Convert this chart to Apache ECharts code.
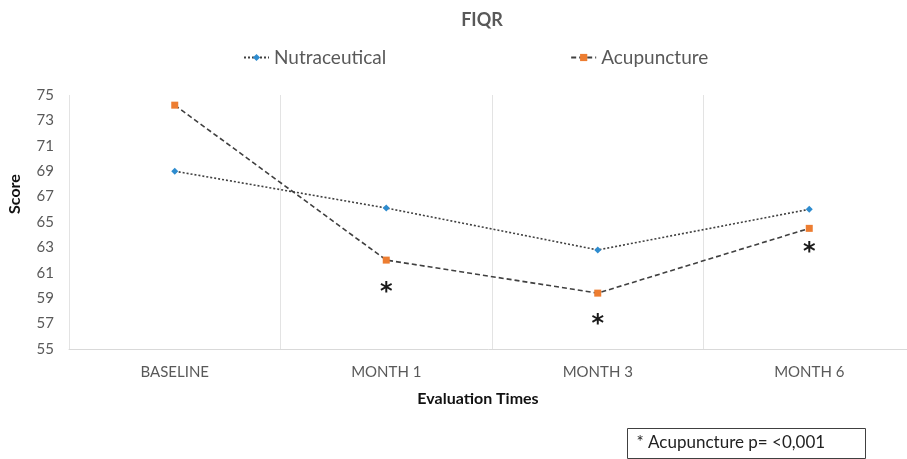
<!DOCTYPE html>
<html>
<head>
<meta charset="utf-8">
<script src="https://cdn.jsdelivr.net/npm/echarts@6/dist/echarts.min.js"></script>
<style>
  html, body { margin: 0; padding: 0; background: #fff; }
  #chart { width: 907px; height: 459px; }
</style>
</head>
<body>
<div id="chart"></div>
<script>
// 横轴分类
var categories = ["BASELINE", "MONTH 1", "MONTH 3", "MONTH 6"];
// 两组得分
var nutraceutical = [69.0, 66.1, 62.8, 66.0];
var acupuncture = [74.2, 62.0, 59.4, 64.5];
// 显著性标记（针灸组）
var acuMarks = ["", "*", "*", "*"];
var yTicks = { min: 55, max: 75, interval: 2 };

// 星号离点的距离（样式）
var markGap = [0, 19, 18, 11];

var font = "Lato, 'Open Sans', sans-serif";
var gray = "#595959";

var acuData = acupuncture.map(function (v, i) {
  return {
    value: v,
    label: {
      show: acuMarks[i] !== "",
      formatter: acuMarks[i],
      position: "bottom",
      distance: markGap[i],
      fontSize: 24,
      fontWeight: "bold",
      lineHeight: 20,
      color: "#1a1a1a",
      fontFamily: "'DejaVu Sans', sans-serif"
    }
  };
});

var opts = {
  title: {
    text: "FIQR",
    left: 477,
    textAlign: "center",
    top: 6,
    textStyle: { color: gray, fontSize: 18, fontWeight: "bold", fontFamily: font }
  },
  legend: {
    left: 238,
    top: 43,
    itemWidth: 25,
    itemHeight: 9,
    itemGap: 184,
    textStyle: { color: gray, fontSize: 19, fontFamily: font },
    data: ["Nutraceutical", "Acupuncture"]
  },
  // 绘图区右侧超出画布，和原图一样被裁掉
  grid: { left: 69, top: 95, width: 846, height: 254, outerBoundsMode: "none", containLabel: false },
  xAxis: {
    type: "category",
    data: categories,
    boundaryGap: true,
    name: "Evaluation Times",
    nameLocation: "middle",
    nameGap: 42,
    nameTextStyle: { color: "#111", fontSize: 16, fontWeight: "bold", fontFamily: font, padding: [0, 28, 0, 0] },
    axisLine: { show: true, lineStyle: { color: "#d9d9d9" } },
    axisTick: { show: false },
    axisLabel: { color: gray, fontSize: 15, margin: 16, fontFamily: font },
    splitLine: { show: true, lineStyle: { color: "#e3e3e3" } }
  },
  yAxis: {
    type: "value",
    min: yTicks.min,
    max: yTicks.max,
    interval: yTicks.interval,
    name: "Score",
    nameLocation: "middle",
    nameRotate: 90,
    nameGap: 46,
    nameTextStyle: { color: "#111", fontSize: 16, fontWeight: "bold", fontFamily: font, padding: [0, 0, 0, 56] },
    axisLine: { show: false },
    axisTick: { show: false },
    axisLabel: { color: gray, fontSize: 15, margin: 15, fontFamily: font },
    splitLine: { show: false }
  },
  series: [
    {
      name: "Nutraceutical",
      type: "line",
      data: nutraceutical,
      symbol: "diamond",
      symbolSize: 7,
      itemStyle: { color: "#2e8ccf" },
      lineStyle: { color: "#404040", width: 1.6, type: [2, 2] }
    },
    {
      name: "Acupuncture",
      type: "line",
      data: acuData,
      symbol: "rect",
      symbolSize: 7,
      itemStyle: { color: "#ed7d31" },
      lineStyle: { color: "#404040", width: 1.6, type: [5, 3] }
    }
  ],
  graphic: [
    {
      type: "group",
      left: 627,
      top: 428,
      children: [
        {
          type: "rect",
          shape: { x: 0, y: 0, width: 238, height: 30 },
          style: { fill: "#fff", stroke: "#404040", lineWidth: 1 }
        },
        {
          type: "text",
          x: 9,
          y: 6,
          style: { text: "* Acupuncture p= <0,001", fill: "#222", fontSize: 17, fontFamily: font }
        }
      ]
    }
  ]
};

var myChart = echarts.init(document.getElementById("chart"));
myChart.setOption(opts);
</script>
</body>
</html>
